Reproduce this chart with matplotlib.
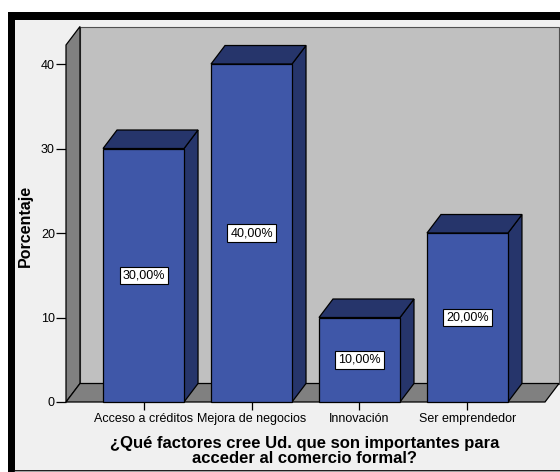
import matplotlib
matplotlib.use("Agg")
import matplotlib.pyplot as plt
from matplotlib.patches import Polygon, Rectangle

plt.rcParams['font.family'] = ['Liberation Sans', 'DejaVu Sans']

categories = ["Acceso a créditos", "Mejora de negocios", "Innovación", "Ser emprendedor"]
values = [30.0, 40.0, 10.0, 20.0]
value_labels = ["30,00%", "40,00%", "10,00%", "20,00%"]
y_ticks = [0, 10, 20, 30, 40]
y_title = "Porcentaje"
x_title = "¿Qué factores cree Ud. que son importantes para\nacceder al comercio formal?"

W, H = 560, 472
fig = plt.figure(figsize=(W / 100, H / 100), dpi=100)
fig.patch.set_facecolor("white")


def fx(px):
    return px / W


def fy(py):
    return 1 - py / H


# outer frame: heavy black edge top/left, light gray panel inside
bg = fig.add_axes([0, 0, 1, 1], zorder=0)
bg.set_xlim(0, W)
bg.set_ylim(H, 0)
bg.axis("off")
bg.add_patch(Rectangle((8, 12), W - 8, H - 12, facecolor="black", edgecolor="none"))
bg.add_patch(Rectangle((15, 20), W - 15, 450, facecolor="#f0f0f0", edgecolor="none"))
bg.plot([15, W], [470.5, 470.5], color="#a0a0a0", lw=1)

# axes covering the front plane of the 3-D box
x_left_px, x_right_px, y0_px, ytop_px = 66, 545, 402, 45
ax = fig.add_axes([fx(x_left_px), fy(y0_px), fx(x_right_px - x_left_px), fy(ytop_px) - fy(y0_px)],
                  zorder=2)
ax.set_facecolor("none")
xlo, xhi = -0.718, 3.718
ymax = 42.25
ax.set_xlim(xlo, xhi)
ax.set_ylim(0, ymax)
for s in ax.spines.values():
    s.set_visible(False)

# depth offset of the box (in data units)
px_per_x = (x_right_px - x_left_px) / (xhi - xlo)
px_per_y = (y0_px - ytop_px) / ymax
ddx = 14 / px_per_x
ddy = 18.5 / px_per_y

wall_c = "#c0c0c0"
side_c = "#808080"
front_c = "#3f57a8"
dark_c = "#26356b"


def poly(pts, fc, z, lw=0.9, ec="black"):
    ax.add_patch(Polygon(pts, closed=True, facecolor=fc, edgecolor=ec, lw=lw,
                         zorder=z, clip_on=False, joinstyle="miter"))


# back wall, left wall, floor
poly([(xlo + ddx, ddy), (xhi + ddx, ddy), (xhi + ddx, ymax + ddy), (xlo + ddx, ymax + ddy)],
     wall_c, 1, lw=0.8, ec="#505050")
poly([(xlo, 0), (xlo + ddx, ddy), (xlo + ddx, ymax + ddy), (xlo, ymax)], side_c, 2)
poly([(xlo, 0), (xhi, 0), (xhi + ddx, ddy), (xlo + ddx, ddy)], side_c, 2)

# bars with top and side faces
bw = 0.75
for i, v in enumerate(values):
    l, r = i - bw / 2, i + bw / 2
    poly([(r, 0), (r + ddx, ddy), (r + ddx, v + ddy), (r, v)], dark_c, 3)
    poly([(l, v), (r, v), (r + ddx, v + ddy), (l + ddx, v + ddy)], dark_c, 3)
    ax.add_patch(Rectangle((l, 0), bw, v, facecolor=front_c, edgecolor="black", lw=0.9,
                           zorder=4, clip_on=False))
    ax.text(i, v / 2, value_labels[i], ha="center", va="center", fontsize=9, zorder=6,
            bbox=dict(boxstyle="square,pad=0.22", facecolor="white", edgecolor="black", lw=0.8))

ax.set_yticks(y_ticks)
ax.set_yticklabels([str(t) for t in y_ticks], fontsize=9)
ax.set_xticks(range(len(categories)))
ax.set_xticklabels(categories, fontsize=9)
ax.tick_params(axis="y", direction="out", length=7, width=0.9, pad=1, color="black")
ax.tick_params(axis="x", direction="out", length=6, width=0.9, pad=2, color="black")

fig.text(fx(25), fy(226), y_title, rotation=90, ha="center", va="center",
         fontsize=11.5, fontweight="bold")
fig.text(fx(305), fy(451), x_title, ha="center", va="center", fontsize=12,
         fontweight="bold", linespacing=1.0)

fig.savefig("out.png", dpi=100)
